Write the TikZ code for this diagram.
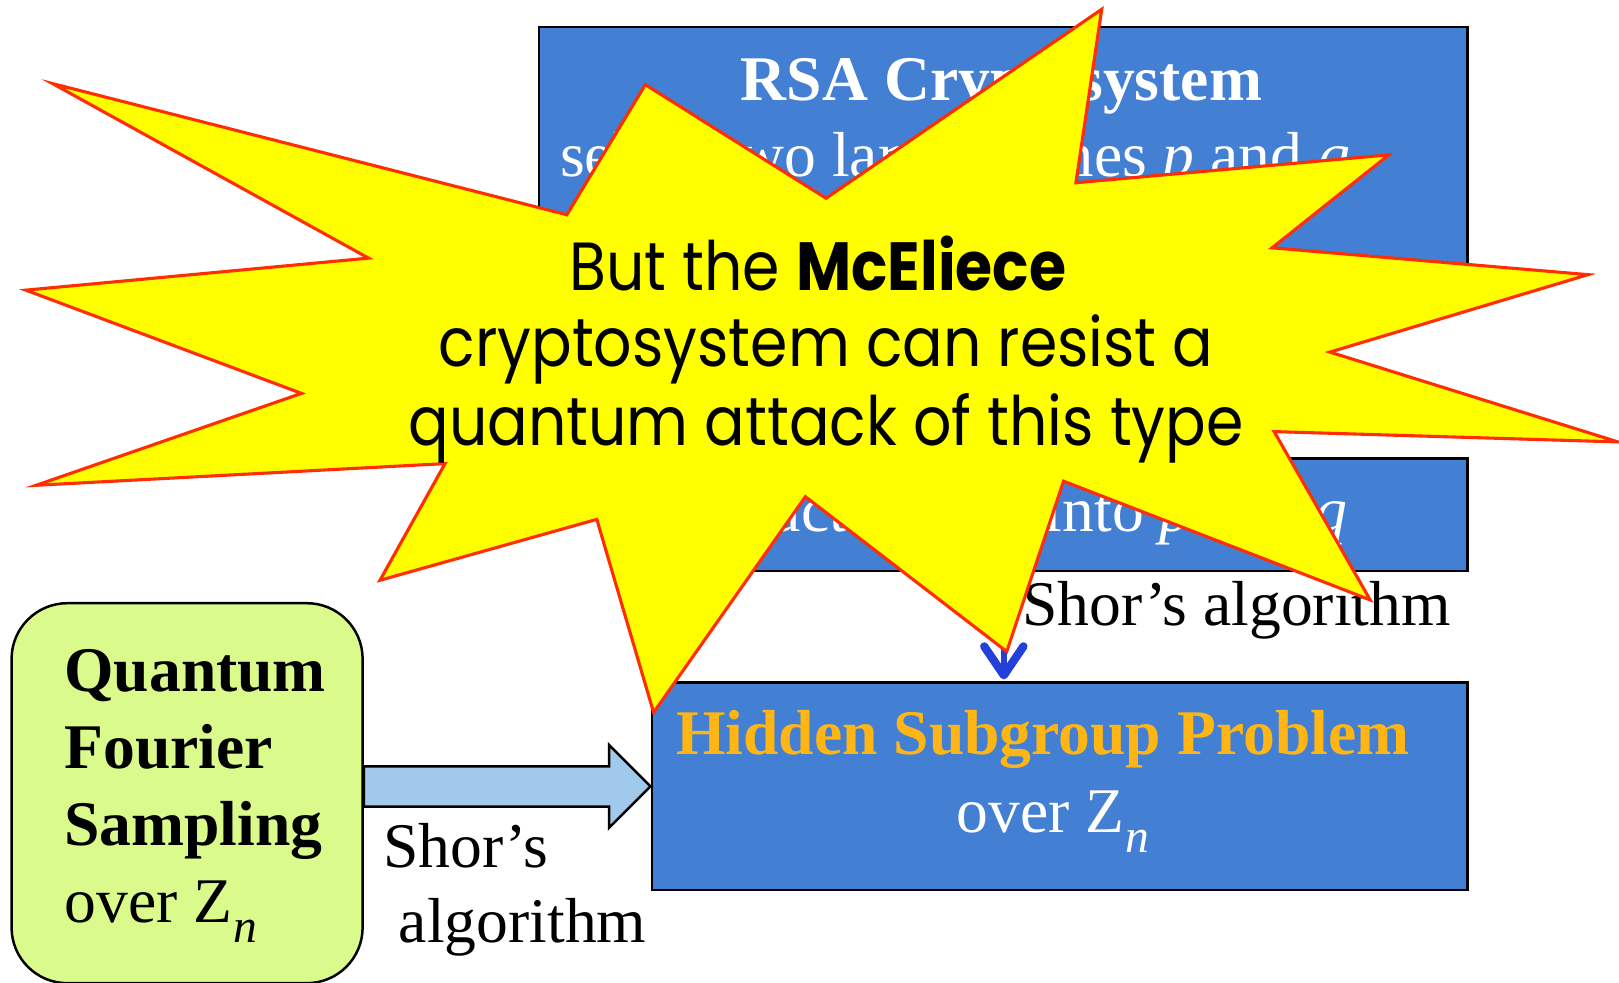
\documentclass[tikz,border=0pt]{standalone}
\usepackage{fontspec}
\setmainfont{Liberation Serif}
\newfontfamily\burstfont{Poppins}
\usetikzlibrary{arrows.meta,calc}

\definecolor{boxblue}{RGB}{67,128,211}
\definecolor{hspgold}{RGB}{255,182,20}
\definecolor{qfsgreen}{RGB}{219,250,140}
\definecolor{shaftblue}{RGB}{161,201,236}
\definecolor{arrowblue}{RGB}{35,64,216}
\definecolor{burstred}{RGB}{255,45,0}
\definecolor{burstyellow}{RGB}{255,255,0}

\newcommand{\Zn}{Z\kern0.02em\raisebox{-0.32em}{\fontsize{23}{23}\selectfont\itshape n}}
\newcommand{\burstline}[1]{\scalebox{0.97}[1.1]{#1}}

\tikzset{
  bluebox/.style={draw=black, line width=1.2pt, fill=boxblue, inner sep=0pt, anchor=north west},
  greenbox/.style={draw=black, line width=1.2pt, fill=qfsgreen, rounded corners=27pt, inner sep=0pt, anchor=north west},
  serif/.style={font=\fontsize{30.8}{37}\selectfont, inner sep=0pt},
  serifbold/.style={font=\fontsize{30.8}{37}\selectfont\bfseries, inner sep=0pt},
  blockarrow/.style={draw=black, line width=1.2pt, fill=shaftblue, line join=miter},
  shorarrow/.style={draw=arrowblue, line width=3pt,
    -{Straight Barb[length=14pt, width=19pt, line width=4pt, round]}},
  burst/.style={draw=burstred, line width=1.5pt, fill=burstyellow, line join=miter},
  bursttext/.style={font=\fontsize{30}{37}\burstfont, inner sep=0pt, anchor=base},
}

\begin{document}
\begin{tikzpicture}[x=0.5pt, y=-0.5pt]
\useasboundingbox (0,0) rectangle (1568,952);

% boxes
\node[bluebox, minimum width=449.5pt, minimum height=125pt] (rsa) at (521,25) {};
\node[bluebox, minimum width=395pt, minimum height=54.5pt] (factor) at (630,443) {};
\node[bluebox, minimum width=395pt, minimum height=100.5pt] (hsp) at (630,660) {};
\node[greenbox, minimum width=170pt, minimum height=184pt] (qfs) at (10,583) {};

% box texts
\node[serifbold, text=white, anchor=base] (rsatitle) at (970,97) {RSA Cryptosystem};
\node[serif, text=white, anchor=base west] (rsaline) at (542,171) {select two large primes \textit{p} and \textit{q}};
\node[serif, text=white, anchor=base east] (factortext) at (1305,515) {Factoring \textit{n} into \textit{p} and \textit{q}};
\node[serifbold, text=hspgold, anchor=base] (hsptitle) at (1010,731) {Hidden Subgroup Problem};
\node[serif, text=white, anchor=base] (hspline) at (1020,806) {over \Zn};
\node[serifbold, anchor=base west] (qfs1) at (62,670) {Quantum};
\node[serifbold, anchor=base west] (qfs2) at (62,744) {Fourier};
\node[serifbold, anchor=base west] (qfs3) at (62,819) {Sampling};
\node[serif, anchor=base west] (qfs4) at (62,893) {over \Zn};

% block arrow from the sampling box to the hidden subgroup box
\coordinate (tip) at (hsp.west);
\coordinate (tail) at (qfs.east |- hsp.west);
\draw[blockarrow] ($(tail)+(0,-19.5)$) -- ($(tip)+(-40,-19.5)$) -- ($(tip)+(-40,-40)$)
  -- (tip) -- ($(tip)+(-40,40)$) -- ($(tip)+(-40,19.5)$) -- ($(tail)+(0,19.5)$) -- cycle;
\node[serif, anchor=base west] (shor1) at (371,840) {Shor’s};
\node[serif, anchor=base west] (shor2) at (386,913) {algorithm};

% reduction arrow
\draw[shorarrow] ([xshift=-27pt]factor.south) -- ([xshift=-27pt,yshift=1pt]hsp.north);
\node[serif, anchor=base west] (shor3) at (990,606) {Shor’s algorithm};

% explosion burst
\draw[burst] (51,81) -- (549,208) -- (625,82) -- (800,192) -- (1067,9) -- (1042,177)
  -- (1345,150) -- (1232,240) -- (1538,266) -- (1288,341) -- (1567,428) -- (1234,418)
  -- (1327,581) -- (1030,466) -- (975,631) -- (780,481) -- (633,690) -- (578,503)
  -- (368,562) -- (431,449) -- (35,470) -- (292,381) -- (25,281) -- (357,250) -- cycle;
\node[bursttext] (b1) at (792,281) {\burstline{But the \textbf{McEliece}}};
\node[bursttext] (b2) at (800,355) {\burstline{cryptosystem can resist a}};
\node[bursttext] (b3) at (800,431) {\burstline{quantum attack of this type}};
\end{tikzpicture}
\end{document}
